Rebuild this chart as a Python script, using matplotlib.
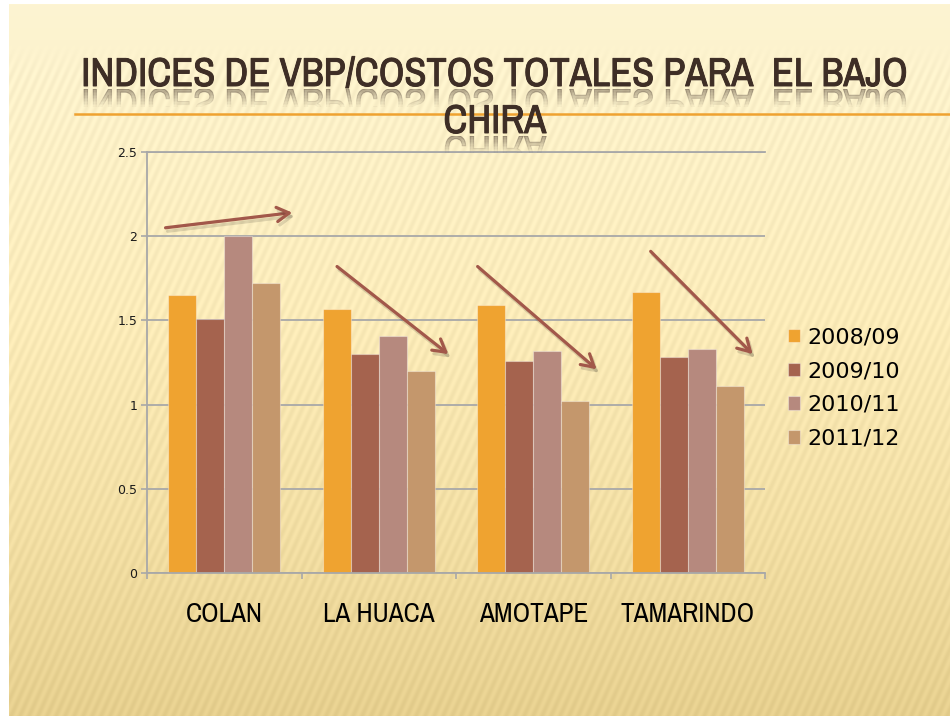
import numpy as np
import matplotlib
matplotlib.use("Agg")
import matplotlib.pyplot as plt
from matplotlib import patheffects as pe
from matplotlib import transforms as mtransforms
from matplotlib import font_manager
from matplotlib.lines import Line2D

# data
regions = ["COLAN", "LA HUACA", "AMOTAPE", "TAMARINDO"]
seasons = ["2008/09", "2009/10", "2010/11", "2011/12"]
v_2008_09 = [1.65, 1.57, 1.59, 1.67]
v_2009_10 = [1.51, 1.30, 1.26, 1.28]
v_2010_11 = [2.00, 1.41, 1.32, 1.33]
v_2011_12 = [1.72, 1.20, 1.02, 1.11]
y_ticks = [0, 0.5, 1, 1.5, 2, 2.5]
y_tick_labels = ["0", "0.5", "1", "1.5", "2", "2.5"]

# hand-drawn trend arrows (data coords: category index, value)
trend_start = [(-0.38, 2.05), (0.73, 1.82), (1.64, 1.82), (2.76, 1.91)]
trend_end = [(0.44, 2.14), (1.45, 1.30), (2.41, 1.21), (3.42, 1.30)]

title_1 = "INDICES DE VBP/COSTOS TOTALES PARA  EL BAJO"
title_2 = "CHIRA"

bar_colors = ["#efa330", "#a5634e", "#b6897e", "#c4976c"]
arrow_color = "#a2584a"
title_color = "#3e2e26"
grid_color = "#a8a8a8"

# look for a narrow face (the slide uses a condensed sans)
narrow, stretch = "Liberation Sans", "normal"
for f in font_manager.fontManager.ttflist:
    if "Narrow" in f.name or "Condensed" in f.name:
        narrow, stretch = f.name, "normal"
        break
else:
    for f in font_manager.fontManager.ttflist:
        if f.stretch in ("condensed", "semi-condensed", "extra-condensed") and f.style == "normal":
            narrow, stretch = f.name, f.stretch
            break


class Reflect(pe.AbstractPathEffect):
    """mirror the glyphs under the baseline and fade them out"""

    def __init__(self, alpha=0.38, gap=3, depth=0.6, steps=12, lw=0.7):
        super().__init__()
        self.alpha, self.gap, self.depth, self.steps, self.lw = alpha, gap, depth, steps, lw

    def draw_path(self, renderer, gc, tpath, affine, rgbFace=None):
        ext = tpath.get_extents()
        y0 = affine.transform((0, 0))[1]
        h = affine.transform((0, ext.y1))[1] - y0
        mirror = (mtransforms.Affine2D().scale(1, -1) + affine
                  + mtransforms.Affine2D().translate(0, -self.gap))
        band = h * self.depth / self.steps
        for i in range(self.steps):
            gc2 = renderer.new_gc()
            gc2.copy_properties(gc)
            gc2.set_linewidth(self.lw)
            gc2.set_alpha(self.alpha * (1 - i / self.steps))
            top = y0 - self.gap - i * band
            gc2.set_clip_rectangle(mtransforms.Bbox([[0, top - band], [renderer.width, top]]))
            renderer.draw_path(gc2, tpath, mirror, rgbFace)
            gc2.restore()


fig = plt.figure(figsize=(9.5, 7.16), dpi=100, facecolor="white")

# slide background: cream gradient with faint diagonal stripes
H, W = 712, 941
yy, xx = np.mgrid[0:H, 0:W]
t = yy / (H - 1)
stop_t = [0, 0.2, 0.45, 0.75, 1]
stop_c = np.array([[253, 244, 210], [252, 240, 198], [251, 235, 184],
                   [242, 222, 163], [230, 207, 142]]) / 255
base = np.stack([np.interp(t, stop_t, stop_c[:, k]) for k in range(3)], axis=-1)
stripes = np.sin(2 * np.pi * (xx + 0.45 * yy) / 9.0)
strength = 0.02 * np.clip((yy - 40) / 30, 0, 1)
img = np.clip(base + (strength * stripes)[..., None], 0, 1)
bg = fig.add_axes([9 / 950, 0, 1 - 9 / 950, 1 - 4 / 716])
bg.imshow(img, aspect="auto", interpolation="bilinear")
bg.axis("off")

# title underline
fig.add_artist(Line2D([75 / 950, 1], [1 - 114 / 716] * 2, color="#efa230", lw=1.8, zorder=1))

# condensed face + thin stroke to get the heavy condensed look of the slide title
tkw = dict(ha="center", va="baseline", color=title_color, fontsize=26,
           fontweight="bold", family=[narrow, "DejaVu Sans"], fontstretch=stretch,
           zorder=3, path_effects=[Reflect(),
                                   pe.Stroke(linewidth=0.7, foreground=title_color),
                                   pe.Normal()])
t1 = fig.text(0.521, 1 - 86 / 716, title_1, **tkw)
t2 = fig.text(0.521, 1 - 133 / 716, title_2, **tkw)

ax = fig.add_axes([147 / 950, 1 - 573 / 716, 618 / 950, 421 / 716])
ax.patch.set_alpha(0)

x = np.arange(len(regions))
w = 1 / 5.5
series = [v_2008_09, v_2009_10, v_2010_11, v_2011_12]
for i, (vals, lab, col) in enumerate(zip(series, seasons, bar_colors)):
    ax.bar(x + (i - 1.5) * w, vals, w, color=col, label=lab,
           edgecolor=(1, 1, 1, 0.35), linewidth=0.8, zorder=2)

for (x0, y0), (x1, y1) in zip(trend_start, trend_end):
    ax.annotate("", xy=(x1, y1), xytext=(x0, y0), annotation_clip=False,
                arrowprops=dict(arrowstyle="->,head_length=0.55,head_width=0.32",
                                mutation_scale=16, lw=2.3, color=arrow_color,
                                shrinkA=0, shrinkB=0, zorder=4,
                                path_effects=[pe.SimpleLineShadow(offset=(1.5, -2.5), alpha=0.13),
                                              pe.Normal()]))

ax.set_xlim(-0.5, 3.5)
ax.set_ylim(0, 2.5)
ax.set_yticks(y_ticks, y_tick_labels)
ax.set_xticks(x, regions)
ax.set_xticks(np.arange(-0.5, 4, 1), minor=True)
ax.tick_params(axis="x", which="major", length=0, pad=21, labelsize=19)
ax.tick_params(axis="x", which="minor", length=4.5, width=1.2, color=grid_color)
ax.tick_params(axis="y", length=4, width=1.2, color=grid_color, pad=3,
               labelsize=9, labelcolor="#1a1a1a")
for lbl in ax.get_xticklabels():
    lbl.set_family([narrow, "DejaVu Sans"])
    lbl.set_fontstretch(stretch)
ax.yaxis.grid(True, color=grid_color, lw=1.3)
ax.set_axisbelow(True)
for side in ["left", "bottom", "top"]:
    ax.spines[side].set_color(grid_color)
    ax.spines[side].set_linewidth(1.3)
ax.spines["right"].set_visible(False)

ax.legend(loc="center left", bbox_to_anchor=(788 / 950, 1 - 388 / 716),
          bbox_transform=fig.transFigure, frameon=False, fontsize=16,
          handlelength=0.55, handleheight=0.55, handletextpad=0.3,
          labelspacing=0.62, borderpad=0, borderaxespad=0)

# fit text widths to the slide: title line ~826 px, "TAMARINDO" ~134 px
fig.canvas.draw()
r = fig.canvas.get_renderer()
scale = 826 / t1.get_window_extent(r).width
for tt in (t1, t2):
    tt.set_fontsize(26 * scale)
xl = ax.get_xticklabels()
xscale = 134 / xl[3].get_window_extent(r).width
for lbl in xl:
    lbl.set_fontsize(19 * xscale)

fig.savefig("out.png", dpi=100, facecolor=fig.get_facecolor())
